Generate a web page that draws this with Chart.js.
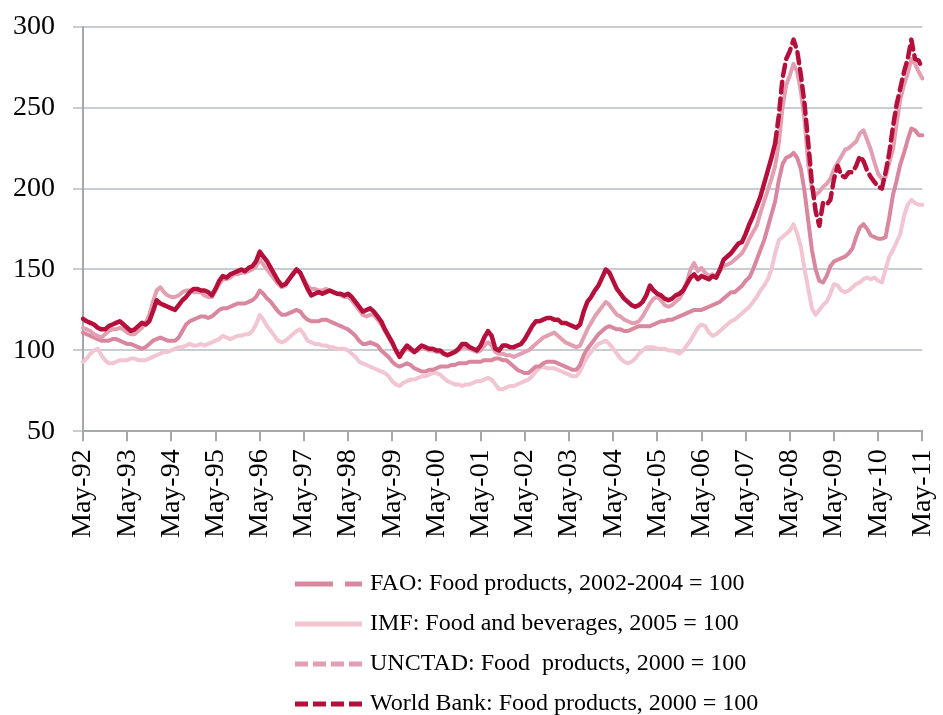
<!DOCTYPE html>
<html>
<head>
<meta charset="utf-8">
<script src="https://cdn.jsdelivr.net/npm/chart.js@4"></script>
<style>
  body { margin: 0; background: #fff; }
  #wrap { width: 943px; height: 715px; }
</style>
</head>
<body>
<div id="wrap"><canvas id="foodChart" width="943" height="715"></canvas></div>
<script>
// monthly index values, May-92 .. May-11 (one row = May..Apr)
const fao = [
  111,110,109,108,107,106,106,106,107,107,106,105,
  104,104,103,102,101,102,104,106,107,108,107,106,
  106,106,108,112,116,118,119,120,121,121,120,121,
  123,125,126,126,127,128,129,129,129,130,131,133,
  137,135,132,130,127,124,122,122,123,124,125,124,
  121,119,118,118,118,119,119,118,117,116,115,114,
  113,111,109,106,104,104,105,104,103,100,98,96,
  93,91,90,91,92,91,89,88,87,87,88,88,
  89,90,90,90,91,91,92,92,92,93,93,93,
  93,94,94,94,95,95,94,94,92,90,88,87,
  86,86,88,90,90,92,93,93,93,92,91,90,
  89,88,88,91,97,101,104,107,110,112,114,115,
  114,113,113,112,112,113,114,115,115,115,115,116,
  117,118,118,119,119,120,121,122,123,124,125,125,
  125,126,127,128,129,130,132,134,136,136,138,140,
  143,145,150,156,162,168,176,184,192,205,215,219,
  220,222,219,212,198,180,162,150,143,142,146,152,
  155,156,157,158,160,163,170,176,178,175,171,170,
  169,169,170,182,196,205,215,222,230,237,236,233,
  233
];
const imf = [
  93,95,98,100,101,97,94,92,92,93,94,94,
  94,95,95,94,94,94,95,96,97,98,99,99,
  100,101,102,102,103,104,103,103,104,103,104,105,
  106,107,109,108,107,108,109,109,110,110,112,116,
  122,119,115,112,109,106,105,106,108,110,112,113,
  110,106,105,104,104,103,103,102,102,101,101,101,
  100,98,96,93,92,91,90,89,88,87,86,84,
  81,79,78,80,81,82,82,83,84,84,85,86,
  86,85,83,81,80,79,79,78,79,79,80,81,
  81,82,83,82,79,76,76,77,78,78,79,80,
  81,82,84,87,89,90,89,89,89,88,87,86,
  85,84,84,87,92,96,99,102,104,105,106,104,
  101,98,95,93,92,93,95,98,100,102,102,102,
  101,101,101,100,100,99,98,100,103,106,110,114,
  116,115,111,109,110,112,114,116,118,119,121,123,
  125,127,130,133,137,140,144,150,160,168,170,172,
  174,178,172,164,150,138,126,122,125,128,130,135,
  141,140,137,136,137,139,141,142,144,145,144,145,
  143,142,150,158,162,167,172,183,190,193,191,190,
  190
];
const unctad = [
  114,113,112,110,109,108,110,112,113,113,114,113,
  111,110,110,112,114,117,122,130,137,139,136,134,
  133,133,134,136,137,137,136,136,136,134,133,133,
  137,141,144,144,145,147,147,148,148,149,150,152,
  156,153,150,147,144,141,139,140,144,148,150,148,
  144,140,138,138,137,137,138,137,136,135,134,133,
  133,131,128,125,122,121,122,122,119,116,112,108,
  104,100,97,99,101,100,99,100,102,101,100,100,
  99,99,98,97,98,99,100,102,102,101,100,99,
  100,103,105,103,99,98,98,97,97,96,97,98,
  99,100,102,104,106,108,109,110,111,109,107,105,
  104,103,102,103,108,113,117,121,124,127,130,128,
  125,122,121,119,118,117,117,118,121,125,129,132,
  133,131,128,127,128,130,132,136,142,150,154,149,
  151,148,146,147,146,149,152,153,154,156,158,160,
  164,169,173,177,185,192,199,206,214,228,250,264,
  270,277,272,260,242,215,200,196,198,201,203,206,
  212,216,220,224,225,227,229,234,236,230,224,216,
  209,206,207,216,224,240,255,264,271,280,277,272,
  268
];
const worldBank = [
  119.5,118,117,116,114,113,113,115,116,117,118,116,
  114,112,113,115,117,116,118,124,131,129,128,127,
  126,125,128,131,133,136,138,138,137,137,136,134,
  138,143,146,145,147,148,149,150,149,151,152,155,
  161,158,155,151,147,143,140,141,144,147,150,148,
  143,138,134,135,136,135,136,137,136,135,135,134,
  135,133,130,127,124,125,126,124,121,118,113,109,
  105,100,96,100,103,101,99,101,103,102,101,101,
  100,100,98,97,98,99,101,104,104,102,101,100,
  103,108,112,109,101,100,103,103,102,102,103,104,
  107,111,115,118,118,119,120,120,119,119,117,117,
  116,115,114,116,124,130,133,137,140,145,150,148,
  143,138,135,132,130,128,127,128,130,134,140,137,
  135,134,132,131,132,134,135,137,141,145,147,144,
  146,145,144,146,145,150,156,158,160,163,166,167,
  172,178,183,189,195,203,211,219,228,245,268,280,
  285,292,285,270,252,228,203,186,177,191,190,193,
  206,214,208,207,210,210,214,220,217,211,207,204,
  201,200,210,222,238,252,262,272,280,292,280,279,
  274
];

const monthNames = ['Jan','Feb','Mar','Apr','May','Jun','Jul','Aug','Sep','Oct','Nov','Dec'];
const months = [];
for (let i = 0; i < worldBank.length; i++) {
  const mi = (4 + i) % 12;
  const yr = (1992 + Math.floor((4 + i) / 12)) % 100;
  months.push(monthNames[mi] + '-' + String(yr).padStart(2, '0'));
}

const serif = '"Liberation Serif", "Times New Roman", serif';
const dashFrom = 188; // World Bank line turns dashed here

const legendPlugin = {
  id: 'stackLegend',
  afterDraw(chart) {
    const ctx = chart.ctx;
    const x0 = 295, x1 = 362, tx = 370;
    ctx.save();
    ctx.font = '24px ' + serif;
    ctx.textBaseline = 'middle';
    ctx.textAlign = 'left';
    chart.data.datasets.forEach((ds, i) => {
      const y = 584 + i * 40;
      ctx.strokeStyle = ds.borderColor;
      ctx.lineWidth = ds.legendWidth;
      ctx.setLineDash(ds.legendDash);
      ctx.beginPath();
      ctx.moveTo(x0, y);
      ctx.lineTo(x1, y);
      ctx.stroke();
      ctx.setLineDash([]);
      ctx.fillStyle = '#000';
      ctx.fillText(ds.label, tx, y);
    });
    ctx.restore();
  }
};

const ctx = document.getElementById('foodChart').getContext('2d');

new Chart(ctx, {
  type: 'line',
  data: {
    labels: months,
    datasets: [
      {
        label: 'FAO: Food products, 2002-2004 = 100',
        data: fao,
        borderColor: '#d9879e',
        borderWidth: 4,
        order: 2,
        legendDash: [38, 12],
        legendWidth: 5
      },
      {
        label: 'IMF: Food and beverages, 2005 = 100',
        data: imf,
        borderColor: '#f1c5d1',
        borderWidth: 4,
        order: 3,
        legendDash: [],
        legendWidth: 5
      },
      {
        label: 'UNCTAD: Food  products, 2000 = 100',
        data: unctad,
        borderColor: '#e39fb2',
        borderWidth: 4,
        order: 1,
        legendDash: [13, 5],
        legendWidth: 5
      },
      {
        label: 'World Bank: Food products, 2000 = 100',
        data: worldBank,
        borderColor: '#b50f3b',
        borderWidth: 4.5,
        order: 0,
        legendDash: [13, 5],
        legendWidth: 5,
        segment: {
          borderDash: c => c.p0DataIndex >= dashFrom ? [11, 6] : undefined
        }
      }
    ]
  },
  options: {
    responsive: false,
    animation: false,
    layout: { padding: { left: 0, right: 0, top: 0, bottom: 169 } },
    elements: {
      point: { radius: 0 },
      line: { tension: 0, borderJoinStyle: 'round', borderCapStyle: 'round' }
    },
    plugins: {
      legend: { display: false },
      tooltip: { enabled: false }
    },
    scales: {
      y: {
        min: 50,
        max: 300,
        afterFit: s => { s.width = 83; },
        ticks: {
          stepSize: 50,
          padding: 18,
          color: '#000',
          font: { family: serif, size: 28, lineHeight: 0.62 }
        },
        grid: { color: '#c9cdd3', lineWidth: 2, tickLength: 10 },
        border: { color: '#a5a9ae', width: 2 }
      },
      x: {
        ticks: {
          autoSkip: false,
          minRotation: 90,
          maxRotation: 90,
          padding: 8,
          color: '#000',
          font: { family: serif, size: 28, lineHeight: 0.45 },
          callback: function(val, i) {
            return i % 12 === 0 ? this.getLabelForValue(val).replace(/^[A-Za-z]+/, 'May') : null;
          }
        },
        grid: { drawOnChartArea: false, color: '#a5a9ae', lineWidth: 2, tickLength: 10 },
        border: { color: '#a5a9ae', width: 2 }
      }
    }
  },
  plugins: [legendPlugin]
});
</script>
</body>
</html>
